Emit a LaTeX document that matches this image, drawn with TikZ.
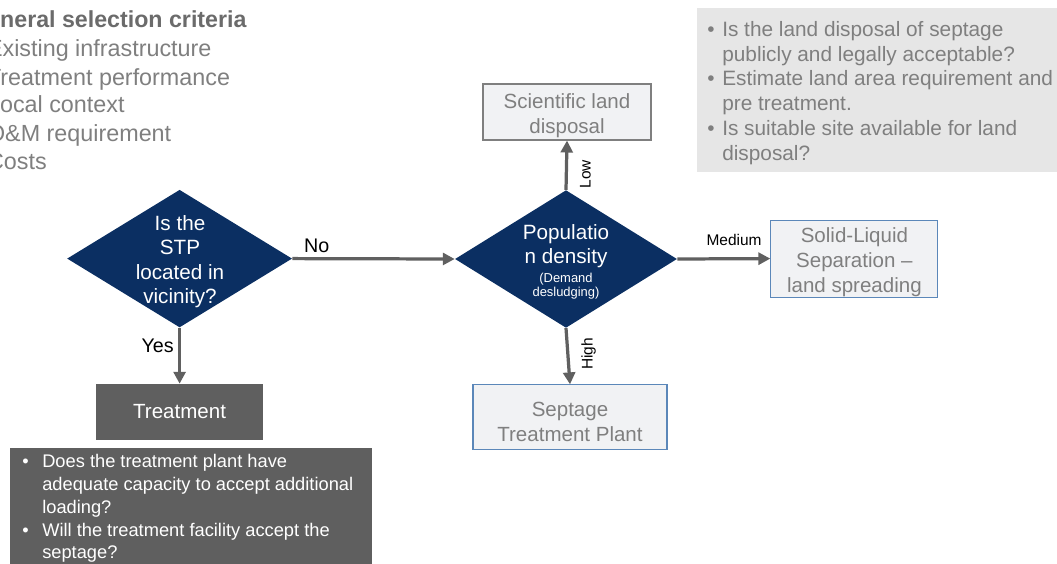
\documentclass[tikz,border=0pt]{standalone}
\usepackage{fontspec}
\setmainfont{Liberation Sans}
\usetikzlibrary{arrows.meta,shapes.geometric}
\definecolor{CD}{HTML}{0B2F62}
\definecolor{CT}{HTML}{5F5F5F}
\definecolor{CL}{HTML}{606060}
\definecolor{CQ}{HTML}{E6E6E6}
\definecolor{CX}{HTML}{7F7F7F}
\definecolor{CH}{HTML}{6B6B6B}
\definecolor{CF}{HTML}{F1F2F4}
\definecolor{CB}{HTML}{5B87B9}
\newcommand{\bitem}[1]{\makebox[#1][l]{•}}
\newcommand{\bcont}[1]{\hspace*{#1}}
\tikzset{
	dec/.style  = {diamond, fill=CD, inner sep=0pt, minimum width=#1, minimum height=3.44cm},
	dtx/.style  = {text=white, align=center, inner sep=0pt, font=\fontsize{14.7}{17.4}\selectfont},
	dsm/.style  = {text=white, align=center, inner sep=0pt, font=\fontsize{9.2}{10}\selectfont},
	opt/.style  = {draw=#1, fill=CF, line width=0.8pt},
	otx/.style  = {text=CX, align=center, inner sep=0pt, yshift=-0.1cm,
		font=\fontsize{14.6}{17.8}\selectfont},
	ar/.style   = {-{Triangle[length=8.5pt, width=8.5pt]}, line width=2.3pt, draw=CL},
	ml/.style   = {font=\fontsize{11}{13}\selectfont, inner sep=8.5pt},
	yl/.style   = {font=\fontsize{14}{16}\selectfont, inner sep=3pt},
	crit/.style = {anchor=base west, text=CX, inner sep=0pt, font=\fontsize{16.6}{19}\selectfont},
}

\begin{document}
\begin{tikzpicture}
		
		\useasboundingbox (0,0) rectangle (26.425,14.075);
		\clip (0,0) rectangle (26.425,14.075);
		
		%%═══════════════════════════════════════════════════════════════════
		%% SELECTION CRITERIA  (top left, cut at the page edge)
		%%═══════════════════════════════════════════════════════════════════
		\node[crit, text=CH, font=\fontsize{16.5}{19}\selectfont\bfseries] (crithead)
		at (-0.775, 13.375) {General selection criteria};
		\node[crit] (crit1) at (-0.33, 12.65) {Existing infrastructure};
		\node[crit] (crit2) at (-0.33, 11.95) {Treatment performance};
		\node[crit] (crit3) at (-0.33, 11.25) {Local context};
		\node[crit] (crit4) at (-0.33, 10.55) {O\&M requirement};
		\node[crit] (crit5) at (-0.33,  9.85) {Costs};
		
		%%═══════════════════════════════════════════════════════════════════
		%% LAND DISPOSAL QUESTIONS  (top right)
		%%═══════════════════════════════════════════════════════════════════
		\node[fill=CQ, anchor=north west, inner sep=0pt,
		minimum width=9.6cm, minimum height=4.1cm] (landq) at (17.425, 13.875) {};
		\node[anchor=north west, align=left, text=CX, inner sep=0pt,
		font=\fontsize{14.8}{17.6}\selectfont] (landqtxt) at (17.675, 13.55)
		{\bitem{0.375cm}Is the land disposal of septage\\
			\bcont{0.375cm}publicly and legally acceptable?\\
			\bitem{0.375cm}Estimate land area requirement and\\
			\bcont{0.375cm}pre treatment.\\
			\bitem{0.375cm}Is suitable site available for land\\
			\bcont{0.375cm}disposal?};
		
		%%═══════════════════════════════════════════════════════════════════
		%% DECISIONS
		%%═══════════════════════════════════════════════════════════════════
		\node[dec=5.625cm] (stp) at (4.49, 7.61) {};
		\node[dtx] (stptxt) at (4.5, 7.53) {Is the\\STP\\located in\\vicinity?};
		
		\node[dec=5.55cm] (pop) at (14.15, 7.6) {};
		\node[dtx] (poptxt) at (14.15, 7.92) {Populatio\\n density};
		\node[dsm] (popsub) at (14.15, 6.93) {(Demand\\desludging)};
		
		%%═══════════════════════════════════════════════════════════════════
		%% OPTIONS
		%%═══════════════════════════════════════════════════════════════════
		\node[opt=CX, minimum width=4.2cm, minimum height=1.4cm,
		label={[otx]center:{Scientific land\\disposal}}] (sci) at (14.175, 11.275) {};
		\node[opt=CB, minimum width=4.175cm, minimum height=1.925cm,
		label={[otx]center:{Solid-Liquid\\Separation –\\land spreading}}] (solid)
		at (21.36, 7.61) {};
		\node[opt=CB, minimum width=4.85cm, minimum height=1.625cm,
		label={[otx, yshift=-0.02cm]center:{Septage\\Treatment Plant}}] (sep)
		at (14.25, 3.64) {};
		\node[fill=CT, text=white, minimum width=4.175cm, minimum height=1.4cm,
		font=\fontsize{14.6}{17.8}\selectfont] (treat) at (4.49, 3.775) {Treatment};
		
		%% treatment plant questions ───────────────────────────────────────
		\node[fill=CT, anchor=north west, inner sep=0pt,
		minimum width=9.05cm, minimum height=3.1cm] (tpq) at (0.25, 2.875) {};
		\node[anchor=north west, align=left, text=white, inner sep=0pt,
		font=\fontsize{13}{16.2}\selectfont] (tpqtxt) at (0.55, 2.72)
		{\bitem{0.5cm}Does the treatment plant have\\
			\bcont{0.5cm}adequate capacity to accept additional\\
			\bcont{0.5cm}loading?\\
			\bitem{0.5cm}Will the treatment facility accept the\\
			\bcont{0.5cm}septage?};
		
		%%═══════════════════════════════════════════════════════════════════
		%% ARROWS
		%%═══════════════════════════════════════════════════════════════════
		\draw[ar] (stp.east) --
		node[yl, above, pos=0.15] (lno) {No} (pop.west);
		\draw[ar] (stp.south) --
		node[yl, left, pos=0.32] (lyes) {Yes} (treat.north);
		\draw[ar] (pop.north) --
		node[ml, anchor=north, rotate=90, pos=0.32] (llow) {Low} (sci.south);
		\draw[ar] (pop.east) --
		node[ml, above, pos=0.61] (lmed) {Medium} (solid.west);
		\draw[ar] (pop.south) --
		node[ml, anchor=north, rotate=90, pos=0.46] (lhigh) {High} (sep.north);
		
	\end{tikzpicture}
\end{document}
